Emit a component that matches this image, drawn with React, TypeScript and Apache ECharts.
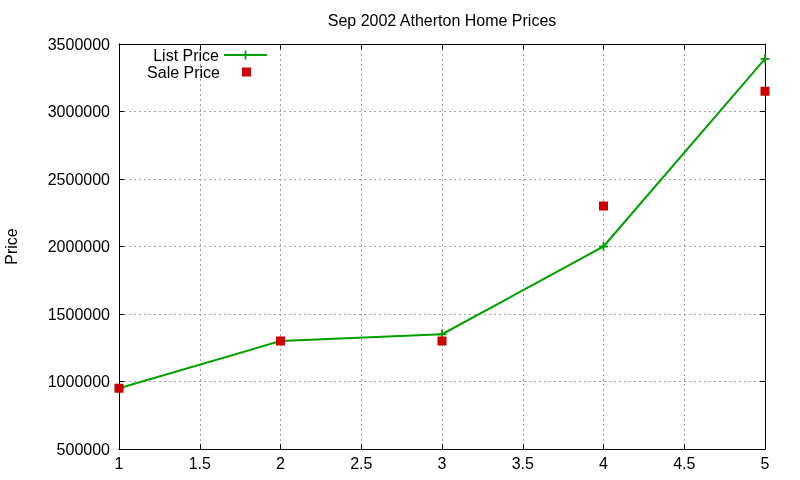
import { useEffect, useRef } from 'react';
import * as echarts from 'echarts';

// house number (x) and prices
const houses = [1, 2, 3, 4, 5];
const listPrice = [950000, 1300000, 1350000, 2000000, 3390000];
const salePrice = [950000, 1300000, 1300000, 2300000, 3150000];

const X_MIN = 1, X_MAX = 5, X_STEP = 0.5;
const Y_MIN = 500000, Y_MAX = 3500000, Y_STEP = 500000;

const FONT = '"Liberation Sans", Arial, sans-serif';
const GREEN = '#00a000';
const RED = '#cc0000';
const PLUS = 'path://M4,0H6V4H10V6H6V10H4V6H0V4H4Z';
// 43x9 box so the square stays centred under the line sample above it
const SQUARE = 'path://M0,4.5L0,4.5M17,0H26V9H17ZM43,4.5L43,4.5';

function frameAxis(extra: any) {
  return {
    type: 'value',
    axisLine: { show: true, onZero: false, lineStyle: { color: '#000', width: 1 } },
    axisTick: { show: true, inside: true, length: 5, lineStyle: { color: '#000' } },
    axisLabel: { show: false },
    splitLine: { show: false },
    ...extra,
  };
}

export default function App() {
  const ref = useRef<HTMLDivElement>(null);

  useEffect(() => {
    if (!ref.current) return;
    const chart = echarts.init(ref.current, undefined, { renderer: 'svg' });
    const grid = { lineStyle: { color: '#a0a0a0', width: 1, type: [2, 3] } };
    const label = { color: '#000', fontSize: 16, fontFamily: FONT };

    chart.setOption({
      animation: false,
      textStyle: { fontFamily: FONT },
      title: {
        text: 'Sep 2002 Atherton Home Prices',
        left: 442,
        textAlign: 'center',
        top: 12,
        padding: 0,
        textStyle: { color: '#000', fontSize: 16, fontWeight: 'normal', fontFamily: FONT },
      },
      legend: [
        {
          data: ['List Price'],
          right: 532,
          top: 47,
          padding: 0,
          align: 'right',
          itemWidth: 43,
          itemHeight: 11,
          textStyle: label,
        },
        {
          data: [{ name: 'Sale Price', icon: SQUARE }],
          right: 532,
          top: 64,
          padding: 0,
          align: 'right',
          itemWidth: 43,
          itemHeight: 9,
          symbolKeepAspect: false,
          textStyle: label,
        },
      ],
      grid: { left: 119, right: 35, top: 44, bottom: 31, containLabel: false, outerBoundsMode: 'none' },
      xAxis: [
        frameAxis({
          min: X_MIN, max: X_MAX, interval: X_STEP,
          position: 'bottom',
          axisLabel: { show: true, margin: 6, ...label },
          splitLine: { show: true, ...grid },
        }),
        frameAxis({ min: X_MIN, max: X_MAX, interval: X_STEP, position: 'top' }),
      ],
      yAxis: [
        frameAxis({
          min: Y_MIN, max: Y_MAX, interval: Y_STEP,
          position: 'left',
          name: 'Price',
          nameLocation: 'middle',
          nameRotate: 90,
          nameGap: 100,
          nameTextStyle: label,
          axisLabel: { show: true, margin: 9, formatter: (v: number) => String(v), ...label },
          splitLine: { show: true, ...grid },
        }),
        frameAxis({ min: Y_MIN, max: Y_MAX, interval: Y_STEP, position: 'right' }),
      ],
      series: [
        {
          name: 'List Price',
          type: 'line',
          data: houses.map((h, i) => [h, listPrice[i]]),
          symbol: PLUS,
          symbolSize: 9,
          showAllSymbol: true,
          itemStyle: { color: GREEN },
          lineStyle: { color: GREEN, width: 2 },
          z: 2,
        },
        {
          name: 'Sale Price',
          type: 'scatter',
          data: houses.map((h, i) => [h, salePrice[i]]),
          symbol: 'rect',
          symbolSize: 9,
          itemStyle: { color: RED, opacity: 1 },
          z: 3,
        },
      ],
    });

    return () => chart.dispose();
  }, []);

  return <div ref={ref} style={{ position: 'fixed', left: 0, top: 0, width: 800, height: 480 }} />;
}
